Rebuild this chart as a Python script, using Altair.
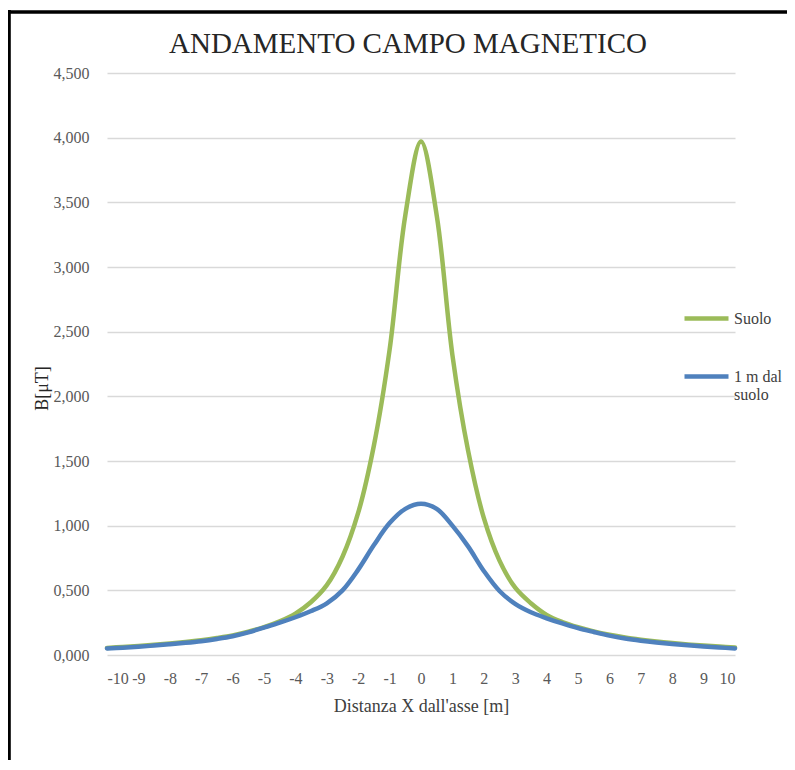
import altair as alt
import pandas as pd

# ---- data ----
x_values = [-10, -9.5, -9, -8.5, -8, -7.5, -7, -6.5, -6, -5.5, -5, -4.5, -4, -3.5, -3, -2.5, -2, -1.5, -1, -0.5,
            0, 0.5, 1, 1.5, 2, 2.5, 3, 3.5, 4, 4.5, 5, 5.5, 6, 6.5, 7, 7.5, 8, 8.5, 9, 9.5, 10]

suolo = [0.055, 0.062, 0.070, 0.079, 0.089, 0.101, 0.115, 0.132, 0.152, 0.180, 0.215, 0.260, 0.320, 0.410, 0.540,
         0.760, 1.100, 1.620, 2.360, 3.400,
         3.970,
         3.400, 2.320, 1.580, 1.060, 0.730, 0.520, 0.400, 0.310, 0.255, 0.215, 0.183, 0.157, 0.136, 0.119, 0.104,
         0.092, 0.082, 0.073, 0.065, 0.058]

un_metro = [0.051, 0.057, 0.064, 0.073, 0.083, 0.094, 0.107, 0.124, 0.145, 0.175, 0.212, 0.250, 0.292, 0.340,
            0.400, 0.500, 0.660, 0.850, 1.020, 1.130,
            1.170,
            1.130, 1.000, 0.840, 0.650, 0.495, 0.395, 0.330, 0.284, 0.244, 0.208, 0.178, 0.150, 0.128, 0.111,
            0.097, 0.085, 0.075, 0.066, 0.058, 0.051]

series_names = ["Suolo", "1 m dal suolo"]
series_colors = ["#9BBB59", "#4F81BD"]
x_ticks = list(range(-10, 11))
y_ticks = [0, 0.5, 1, 1.5, 2, 2.5, 3, 3.5, 4, 4.5]

title_text = "ANDAMENTO CAMPO MAGNETICO"
x_title = "Distanza X dall'asse [m]"
y_title = "B[\u03bcT]"

FONT = "Liberation Serif"

df = pd.DataFrame({
    "x": x_values + x_values,
    "B": suolo + un_metro,
    "serie": [series_names[0]] * len(x_values) + [series_names[1]] * len(x_values),
})

x_enc = alt.X(
    "x:Q",
    scale=alt.Scale(domain=[-10, 10], nice=False, zero=False),
    axis=alt.Axis(
        values=x_ticks, grid=False, ticks=False, tickSize=0, domain=False,
        labelExpr="'' + datum.value", labelFont=FONT, labelFontSize=16, labelColor="#595959",
        labelPadding=15, title=x_title, titleFont=FONT, titleFontSize=18, titleFontWeight="normal",
        titleColor="#404040", titleBaseline="alphabetic", titleY=56,
    ),
)

y_enc = alt.Y(
    "B:Q",
    scale=alt.Scale(domain=[0, 4.5], nice=False),
    axis=alt.Axis(
        values=y_ticks, grid=True, gridColor="#D9D9D9", gridWidth=1.4, ticks=False, tickSize=0,
        domain=False, labelExpr="replace(format(datum.value, '.3f'), '.', ',')",
        labelFont=FONT, labelFontSize=16, labelColor="#595959", labelPadding=18,
        title=y_title, titleFont=FONT, titleFontSize=18, titleFontWeight="normal", titleColor="#262626",
        titleAngle=270, titleAlign="center", titleBaseline="alphabetic", titleX=-60, titleY=315,
    ),
)

color_enc = alt.Color(
    "serie:N",
    scale=alt.Scale(domain=series_names, range=series_colors),
    legend=alt.Legend(
        title=None, orient="none", legendX=575, legendY=221, symbolType="stroke", symbolSize=1936,
        symbolStrokeWidth=4.5, labelFont=FONT, labelFontSize=16, labelColor="#404040", labelOffset=3,
        rowPadding=24, labelLimit=200,
        labelExpr="datum.label == '1 m dal suolo' ? ['1 m dal', 'suolo'] : datum.label",
    ),
)

base = alt.Chart(df).encode(x=x_enc, y=y_enc, color=color_enc)

green = base.transform_filter(alt.datum.serie == series_names[0]).mark_line(
    strokeWidth=4.5, interpolate="catmull-rom", strokeCap="round")
blue = base.transform_filter(alt.datum.serie == series_names[1]).mark_line(
    strokeWidth=4.5, interpolate="catmull-rom", strokeCap="round")

one = pd.DataFrame({"k": [0]})
frame_left = alt.Chart(one).mark_rule(color="black", strokeWidth=3.6).encode(
    x=alt.value(-98), y=alt.value(-63), y2=alt.value(720))
frame_top = alt.Chart(one).mark_rule(color="black", strokeWidth=3.6).encode(
    x=alt.value(-100), x2=alt.value(720), y=alt.value(-61))
title_mark = alt.Chart(one).mark_text(
    text=title_text, font=FONT, fontSize=29, fontWeight="normal", color="#262626",
    align="center", baseline="alphabetic").encode(x=alt.value(301), y=alt.value(-20))

chart = alt.layer(green, blue, frame_left, frame_top, title_mark).properties(
    width=628,
    height=582,
    autosize=alt.AutoSizeParams(type="none"),
    padding={"left": 99, "top": 65, "right": 52, "bottom": 105},
).configure_view(stroke=None)

chart.save("out.html", embed_options={"renderer": "svg", "actions": False})
